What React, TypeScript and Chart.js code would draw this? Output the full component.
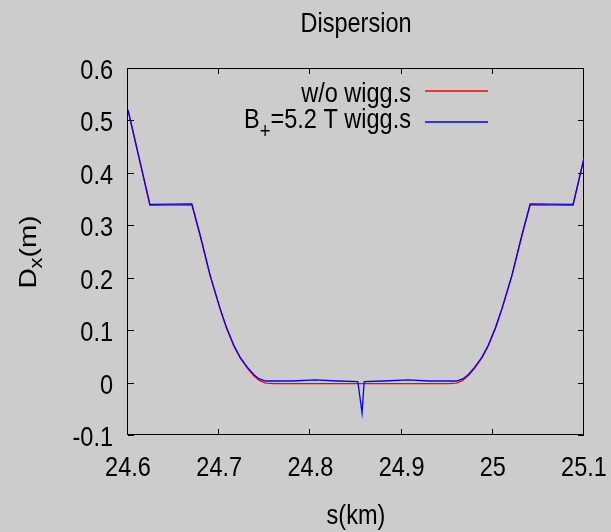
import React, { useEffect, useRef } from 'react';
import { Chart, registerables } from 'chart.js';

Chart.register(...registerables);

const FONT = "'Liberation Sans', Arial, sans-serif";
const SX = 0.84; // horizontal condensation of all text

const titleText = 'Dispersion';
const xAxisTitle = 's(km)';
const yAxisMain = 'D';
const yAxisSub = 'x';
const yAxisRest = '(m)';
const legendRow1 = 'w/o wigg.s';
const legendRow2Main = 'B';
const legendRow2Sub = '+';
const legendRow2Rest = '=5.2 T wigg.s';

const xTicks = [24.6, 24.7, 24.8, 24.9, 25.0, 25.1];
const xTickLabels = ['24.6', '24.7', '24.8', '24.9', '25', '25.1'];
const yTicks = [-0.1, 0, 0.1, 0.2, 0.3, 0.4, 0.5, 0.6];
const yTickLabels = ['-0.1', '0', '0.1', '0.2', '0.3', '0.4', '0.5', '0.6'];

// w/o wigglers
const sNoWiggler = [
  24.600, 24.624, 24.670, 24.679, 24.690, 24.701, 24.708, 24.716, 24.723, 24.731,
  24.738, 24.744, 24.751, 24.760, 24.856, 24.951, 24.960, 24.967, 24.973, 24.980,
  24.988, 24.995, 25.003, 25.010, 25.021, 25.032, 25.041, 25.088, 25.100,
];
const dNoWiggler = [
  0.520, 0.338, 0.339, 0.281, 0.204, 0.140, 0.104, 0.070, 0.047, 0.027,
  0.013, 0.004, -0.001, -0.002, -0.002, -0.002, -0.001, 0.004, 0.013, 0.027,
  0.047, 0.070, 0.104, 0.140, 0.204, 0.281, 0.339, 0.338, 0.428,
];

// B+ = 5.2 T wigglers
const sWiggler = [
  24.600, 24.624, 24.670, 24.679, 24.690, 24.701, 24.708, 24.716, 24.723, 24.731,
  24.738, 24.744, 24.751, 24.760, 24.780, 24.805, 24.830, 24.852, 24.8566, 24.859,
  24.880, 24.907, 24.930, 24.951, 24.960, 24.967, 24.973, 24.980, 24.988, 24.995,
  25.003, 25.010, 25.021, 25.032, 25.041, 25.088, 25.100,
];
const dWiggler = [
  0.520, 0.340, 0.341, 0.282, 0.205, 0.141, 0.105, 0.071, 0.048, 0.029,
  0.015, 0.007, 0.003, 0.003, 0.003, 0.005, 0.003, 0.002, -0.058, 0.002,
  0.003, 0.005, 0.003, 0.003, 0.003, 0.007, 0.015, 0.029, 0.048, 0.071,
  0.105, 0.141, 0.205, 0.282, 0.341, 0.340, 0.428,
];

const RED = 'rgb(255,0,0)';
const BLUE = 'rgb(0,0,255)';
const MAIN_FONT = `28px ${FONT}`;
const SUB_FONT = `22px ${FONT}`;

function textW(ctx: CanvasRenderingContext2D, text: string, font: string) {
  ctx.save();
  ctx.font = font;
  const w = ctx.measureText(text).width * SX;
  ctx.restore();
  return w;
}

function drawText(
  ctx: CanvasRenderingContext2D,
  text: string,
  x: number,
  y: number,
  align: CanvasTextAlign,
  font: string
) {
  ctx.save();
  ctx.translate(x, y);
  ctx.scale(SX, 1);
  ctx.font = font;
  ctx.textAlign = align;
  ctx.textBaseline = 'alphabetic';
  ctx.fillStyle = '#000';
  ctx.fillText(text, 0, 0);
  ctx.restore();
}

const decorPlugin = {
  id: 'decor',
  beforeDraw(chart: any) {
    const ctx = chart.ctx;
    ctx.save();
    ctx.fillStyle = '#cccccc';
    ctx.fillRect(0, 0, chart.width, chart.height);
    ctx.restore();
  },
  beforeDatasetsDraw(chart: any) {
    const ctx = chart.ctx;
    const { left, right, top, bottom } = chart.chartArea;
    const xs = chart.scales.x;
    const ys = chart.scales.y;
    const tl = 6;
    ctx.save();
    ctx.strokeStyle = '#000';
    ctx.lineWidth = 1;
    ctx.beginPath();
    xTicks.forEach((v) => {
      const px = Math.round(xs.getPixelForValue(v)) - 0.5;
      ctx.moveTo(px, bottom);
      ctx.lineTo(px, bottom - tl);
      ctx.moveTo(px, top);
      ctx.lineTo(px, top + tl);
    });
    yTicks.forEach((v) => {
      const py = Math.round(ys.getPixelForValue(v)) + 0.5;
      ctx.moveTo(left, py);
      ctx.lineTo(left + tl, py);
      ctx.moveTo(right, py);
      ctx.lineTo(right - tl, py);
    });
    ctx.stroke();
    ctx.strokeRect(left - 0.5, top + 0.5, right - left, bottom - top - 1);
    ctx.restore();

    // tick labels, positioned through the scales
    xTicks.forEach((v, i) => {
      drawText(ctx, xTickLabels[i], xs.getPixelForValue(v), bottom + 41, 'center', MAIN_FONT);
    });
    yTicks.forEach((v, i) => {
      drawText(ctx, yTickLabels[i], left - 15, ys.getPixelForValue(v) + 11, 'right', MAIN_FONT);
    });
  },
  afterDraw(chart: any) {
    const ctx = chart.ctx;
    const { left, right } = chart.chartArea;
    const cx = (left + right) / 2;

    drawText(ctx, titleText, cx, 32, 'center', MAIN_FONT);
    drawText(ctx, xAxisTitle, cx, 524, 'center', MAIN_FONT);

    // y axis title (rotated, with subscript)
    const wD = textW(ctx, yAxisMain, MAIN_FONT) / SX;
    const wSub = textW(ctx, yAxisSub, SUB_FONT) / SX;
    const wRest = textW(ctx, yAxisRest, MAIN_FONT) / SX;
    const total = wD + wSub + wRest;
    ctx.save();
    ctx.translate(36, 252);
    ctx.scale(SX, 1);
    ctx.rotate(-Math.PI / 2);
    ctx.fillStyle = '#000';
    ctx.textAlign = 'left';
    ctx.textBaseline = 'alphabetic';
    let x0 = -total / 2;
    ctx.font = MAIN_FONT;
    ctx.fillText(yAxisMain, x0, 0);
    x0 += wD;
    ctx.font = SUB_FONT;
    ctx.fillText(yAxisSub, x0, 7);
    x0 += wSub;
    ctx.font = MAIN_FONT;
    ctx.fillText(yAxisRest, x0, 0);
    ctx.restore();

    // legend
    const textRight = 411;
    const lineX0 = 425;
    const lineX1 = 488;
    drawText(ctx, legendRow1, textRight, 102, 'right', MAIN_FONT);
    const wB = textW(ctx, legendRow2Main, MAIN_FONT);
    const wPlus = textW(ctx, legendRow2Sub, SUB_FONT);
    const wRest2 = textW(ctx, legendRow2Rest, MAIN_FONT);
    let lx = textRight - wRest2 - wPlus - wB;
    drawText(ctx, legendRow2Main, lx, 128, 'left', MAIN_FONT);
    lx += wB;
    drawText(ctx, legendRow2Sub, lx, 138, 'left', SUB_FONT);
    lx += wPlus;
    drawText(ctx, legendRow2Rest, lx, 128, 'left', MAIN_FONT);

    ctx.save();
    ctx.lineWidth = 1.3;
    ctx.strokeStyle = RED;
    ctx.beginPath();
    ctx.moveTo(lineX0, 91);
    ctx.lineTo(lineX1, 91);
    ctx.stroke();
    ctx.strokeStyle = BLUE;
    ctx.beginPath();
    ctx.moveTo(lineX0, 122);
    ctx.lineTo(lineX1, 122);
    ctx.stroke();
    ctx.restore();
  },
};

export default function App() {
  const ref = useRef<HTMLCanvasElement | null>(null);

  useEffect(() => {
    if (!ref.current) return;
    const chart = new Chart(ref.current, {
      type: 'scatter',
      data: {
        datasets: [
          {
            label: legendRow1,
            data: sNoWiggler.map((s, i) => ({ x: s, y: dNoWiggler[i] })),
            showLine: true,
            borderColor: RED,
            backgroundColor: RED,
            borderWidth: 1.3,
            pointRadius: 0,
            order: 1,
          },
          {
            label: legendRow2Main + legendRow2Sub + legendRow2Rest,
            data: sWiggler.map((s, i) => ({ x: s, y: dWiggler[i] })),
            showLine: true,
            borderColor: BLUE,
            backgroundColor: BLUE,
            borderWidth: 1.3,
            pointRadius: 0,
            order: 0,
          },
        ],
      },
      options: {
        animation: false,
        responsive: false,
        devicePixelRatio: 1,
        layout: { padding: { left: 0, top: 68, right: 27, bottom: 0 } },
        plugins: {
          legend: { display: false },
          title: { display: false },
          tooltip: { enabled: false },
        },
        scales: {
          x: {
            type: 'linear',
            min: 24.6,
            max: 25.1,
            grid: { display: false },
            border: { display: false },
            ticks: { display: false },
            afterFit: (scale: any) => {
              scale.height = 97;
            },
          },
          y: {
            type: 'linear',
            min: -0.1,
            max: 0.6,
            grid: { display: false },
            border: { display: false },
            ticks: { display: false },
            afterFit: (scale: any) => {
              scale.width = 128;
            },
          },
        },
      },
      plugins: [decorPlugin],
    } as any);
    return () => chart.destroy();
  }, []);

  return (
    <div style={{ position: 'absolute', left: 0, top: 0, width: 611, height: 532, background: '#cccccc' }}>
      <canvas ref={ref} width={611} height={532} style={{ display: 'block', width: 611, height: 532 }} />
    </div>
  );
}
